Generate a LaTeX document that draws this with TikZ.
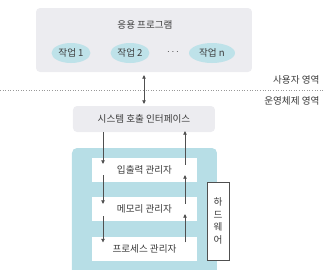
\documentclass[tikz,border=0pt]{standalone}
\usepackage{fontspec}
\setmainfont{Noto Sans CJK KR}
\usetikzlibrary{arrows.meta,calc,shapes.geometric}
\definecolor{boxgray}{HTML}{ECECF0}
\definecolor{osblue}{HTML}{B7DEE6}
\definecolor{ellblue}{HTML}{BEE2E9}
\definecolor{txt}{HTML}{3C3C3C}
\definecolor{ln}{HTML}{505050}
\tikzset{
  lbl/.style={font=\fontsize{9.6}{11}\selectfont, text=txt},
  graybox/.style={fill=boxgray, rounded corners=4pt, inner sep=0pt},
  job/.style={ellipse, fill=ellblue, minimum height=20pt, inner sep=0pt, lbl},
  mgr/.style={fill=white, minimum width=105pt, minimum height=24pt, inner sep=0pt, lbl},
  arr/.style={draw=ln, line width=0.5pt, -{Triangle[length=3.4pt,width=3.4pt]}},
  darr/.style={draw=ln, line width=0.5pt, {Triangle[length=3.4pt,width=3.4pt]}-{Triangle[length=3.4pt,width=3.4pt]}},
}
\begin{document}
\begin{tikzpicture}[x=1pt,y=-1pt]
\useasboundingbox (0,0) rectangle (325,269);
\clip (0,0) rectangle (325,269);
% top application box
\node[graybox, minimum width=216pt, minimum height=64pt] (app) at (144,40) {};
\node[lbl] (apptitle) at (145,25) {응용 프로그램};
\node[job, minimum width=39pt] (j1) at (71,53) {작업 1};
\node[job, minimum width=39pt] (j2) at (130,53) {작업 2};
\node[lbl] (dots) at (173,52) {$\cdots$};
\node[job, minimum width=46pt] (jn) at (212,53) {작업 n};
% boundary
\coordinate (bl) at (0,90);
\coordinate (br) at (325,90);
\draw[dotted, draw=gray!80, line width=0.6pt] (bl) -- (br);
\node[lbl, anchor=east] (user) at (323,80) {사용자 영역};
\node[lbl, anchor=east] (os) at (323,101) {운영체제 영역};
% system call interface
\node[graybox, minimum width=142pt, minimum height=26pt, lbl] (sys) at (144,119) {시스템 호출 인터페이스};
\draw[darr] ([yshift=-3pt]app.south -| sys.north) -- ([yshift=2pt]sys.north);
% OS blue region
\fill[osblue, rounded corners=5pt] (72,285) rectangle (217,148);
% managers
\node[mgr] (io) at (144.5,170) {입출력 관리자};
\node[mgr] (mem) at (144.5,209) {메모리 관리자};
\node[mgr] (proc) at (144.5,248.5) {프로세스 관리자};
% hardware
\node[draw=ln, fill=white, line width=0.6pt, minimum width=22pt, minimum height=78pt, inner sep=0pt, lbl, align=center, font=\fontsize{9.6}{12.5}\selectfont] (hw) at (218,221) {하\\드\\웨\\어};
% left (down) arrows
\coordinate (lx) at (103,0);
\coordinate (rx) at (185,0);
\draw[arr] (sys.south -| lx) -- ([yshift=-6pt]io.north -| lx);
\draw[arr] ([yshift=7pt]io.south -| lx) -- ([yshift=-7pt]mem.north -| lx);
\draw[arr] ([yshift=5pt]mem.south -| lx) -- ([yshift=-6pt]proc.north -| lx);
% right (up) arrows
\draw[arr] ([yshift=-7pt]io.north -| rx) -- ([yshift=1pt]sys.south -| rx);
\draw[arr] ([yshift=-7pt]mem.north -| rx) -- ([yshift=7pt]io.south -| rx);
\draw[arr] ([yshift=-6pt]proc.north -| rx) -- ([yshift=7pt]mem.south -| rx);
\end{tikzpicture}
\end{document}
